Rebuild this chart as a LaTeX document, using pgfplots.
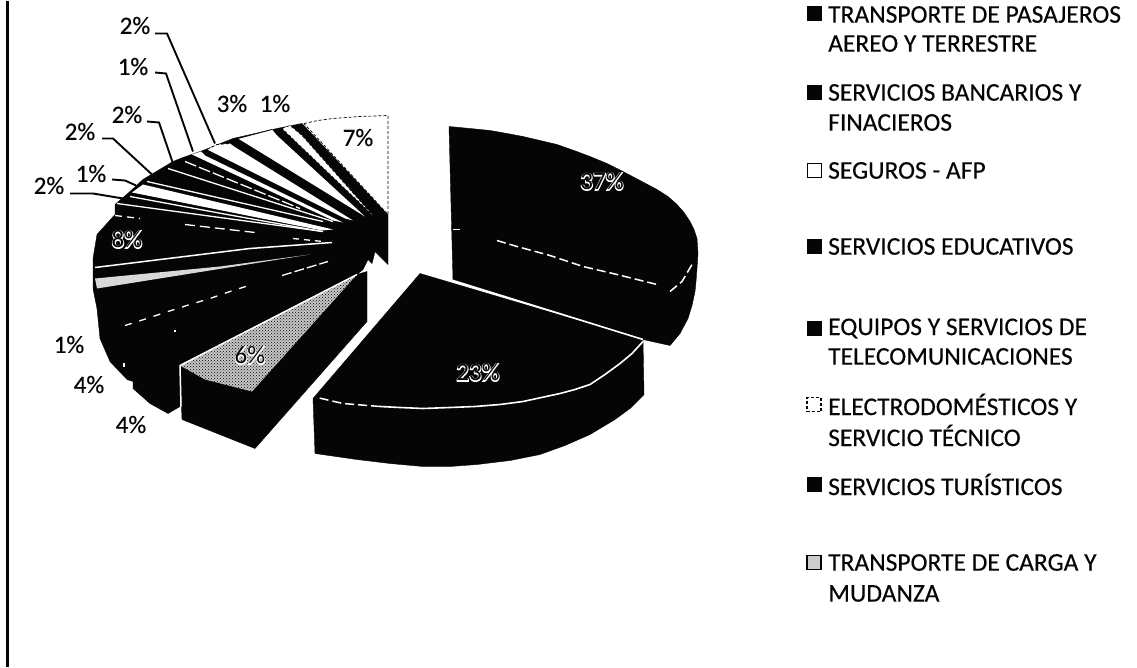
\documentclass[border=0pt]{standalone}
\usepackage{pgfplots}
\pgfplotsset{compat=1.18}
\usepackage{fontspec}
\setmainfont[FakeBold=0.35]{Carlito}
\newfontfamily\halo[FakeBold=7]{Carlito}
\newfontfamily\plain{Carlito}
\usetikzlibrary{patterns}
\definecolor{ink}{gray}{0.02}
\newcommand{\lab}[3]{\node[font=\fontsize{25}{28}\selectfont,text=ink,inner sep=0pt] at (axis cs:#1,#2) {#3};}
\newcommand{\halolab}[3]{\node[font=\halo\fontsize{25}{28}\selectfont,text=white,inner sep=0pt] at (axis cs:#1,#2) {#3};
\node[font=\plain\fontsize{25}{28}\selectfont,text=ink,inner sep=0pt] at (axis cs:#1,#2) {#3};}
\newcommand{\leg}[3]{\node[font=\fontsize{25.5}{28}\selectfont,text=ink,anchor=west,inner sep=0pt] at (axis cs:#1,#2) {#3};}
\begin{document}
\begin{tikzpicture}
\begin{axis}[
  hide axis, scale only axis, width=1137pt, height=665pt,
  xmin=0, xmax=1137, ymin=0, ymax=665, y dir=reverse, clip=false,
]
% page extent
\addplot[draw=none, forget plot] coordinates {(0,0)(1137,665)};
\path (axis cs:0,0) rectangle (axis cs:1137,665);
% frame
\addplot[ink, line width=3pt] coordinates {(7,0) (7,665)};
% 37 %
\addplot[fill=ink, draw=ink] coordinates {(449,125)(470,127)(490,129)(507,132)(523,135)(540,139)(557,143)(574,149)(590,155)(607,162)(623,170)(640,179)(657,188)(668,195)(677,203)(684,211)(690,220)(694,228)(697,237)(698,252)(697,267)(696,280)(695,290)(692,304)(688,317)(680,332)(670,344)(643,338)(453,279)} -- cycle;
\addplot[white, line width=1.5pt, dash pattern=on 9pt off 4pt] coordinates {(497,239)(517,245)(550,254)(583,265)(617,273)(657,283)};
\addplot[white, line width=1.5pt, dash pattern=on 9pt off 4pt] coordinates {(670,290)(682,280)(692,263)};
\addplot[white, line width=1.5pt] coordinates {(453,228)(460,228)};
% 23 %
\addplot[fill=ink, draw=ink] coordinates {(420,272)(643,338)(644,393)(630,407)(615,418)(590,433)(565,444)(540,453)(510,459)(477,463)(450,465)(423,465)(390,462)(357,458)(315,452)(313,397)} -- cycle;
\addplot[white, line width=1.6pt] coordinates {(453,279)(643,338)};
\addplot[white, line width=1.6pt] coordinates {(643,340)(632,352)(620,362)(605,373)(590,383)(575,388)(560,392)(523,400)(500,403)(475,405)(450,406)(423,407)(400,406)(380,405)};
\addplot[white, line width=1.5pt, dash pattern=on 9pt off 4pt] coordinates {(380,405)(343,402)(317,396)};
% main body
\addplot[fill=ink, draw=ink] coordinates {(388,213)(388,263)(375,250)(372,262)(368,258)(363,268)(357,273)(180,364)(180,405)(168,412)(150,402)(133,387)(133,380)(127,378)(110,360)(100,337)(97,307)(93,287)(93,257)(97,233)(115,213)(115,203)(130,190)(143,178)(173,160)(183,156)(203,149)(233,137)(277,127)(302,122)} -- cycle;
% 7 %
\addplot[fill=white, draw=ink, line width=0.7pt, densely dashed] coordinates {(304,122)(318,119)(333,117)(360,115)(388,114)(388,213)} -- cycle;
% white fan wedges
\addplot[fill=white, draw=ink, line width=0.6pt, densely dashed] coordinates {(282,127)(290,124)(302,134)(373,214)} -- cycle;
\addplot[fill=white, draw=none] coordinates {(238,137)(272,128)(277,134)(365,215)} -- cycle;
\addplot[ink, line width=0.8pt] coordinates {(238,137)(272,128)};
\addplot[fill=white, draw=none] coordinates {(207,148)(217,143)(230,142)(234,145)(353,219)(345,217)} -- cycle;
\addplot[ink, line width=0.8pt, densely dashed] coordinates {(207,148)(217,143)(230,142)};
\addplot[fill=white, draw=none] coordinates {(192,153)(201,150)(205,154)(343,221)(333,219)} -- cycle;
\addplot[fill=white, draw=none] coordinates {(132,191)(143,183)(333,228)(322,229)} -- cycle;
% white lines in the fan
\addplot[white, line width=1.3pt] coordinates {(168,167)(333,220)};
\addplot[white, line width=1.3pt] coordinates {(147,180)(323,220)};
\addplot[white, line width=1.3pt, dash pattern=on 12pt off 3pt] coordinates {(185,160)(300,207)};
\addplot[white, line width=1.3pt] coordinates {(130,195)(227,213)(322,230)};
\addplot[white, line width=1.3pt] coordinates {(117,202)(323,230)};
% lower stripes
\addplot[white, line width=1.5pt] coordinates {(95,266)(250,247)(332,241)};
\addplot[fill=white!85!black, draw=none] coordinates {(95,277)(220,265)(310,253)(97,287)} -- cycle;
\addplot[white, line width=1.3pt, dash pattern=on 7pt off 5pt] coordinates {(115,214)(140,217)};
\addplot[white, line width=1.3pt, dash pattern=on 10pt off 5pt] coordinates {(185,223)(255,231)};
\addplot[white, line width=1.3pt, dash pattern=on 6pt off 5pt] coordinates {(293,237)(323,240)};
\addplot[white, line width=1.3pt, dash pattern=on 7pt off 8pt] coordinates {(125,324)(147,317)(168,310)(190,303)(210,297)(230,290)(252,283)};
\addplot[white, line width=1.3pt, dash pattern=on 10pt off 3pt] coordinates {(282,274)(328,260)};
\addplot[white, line width=1.3pt] coordinates {(124,361)(124,365)};
\addplot[white, line width=1.3pt] coordinates {(175,328)(175,330)};
% 6 %
\addplot[fill=ink, draw=ink] coordinates {(180,364)(182,418)(255,447)(367,320)(367,270)(357,273)} -- cycle;
\addplot[fill=gray!45, draw=none] coordinates {(357,273)(180,364)(205,378)(252,390)} -- cycle;
\addplot[pattern=crosshatch dots, pattern color=ink, draw=none] coordinates {(357,273)(180,364)(205,378)(252,390)} -- cycle;
\addplot[white, line width=1.5pt] coordinates {(357,273)(180,364)(181,405)};
% leaders
\addplot[ink, line width=1.9pt] coordinates {(155,32)(167,32)(215,142)};
\addplot[ink, line width=1.9pt] coordinates {(155,71)(166,72)(193,150)};
\addplot[ink, line width=1.9pt] coordinates {(147,120)(159,121)(173,162)};
\addplot[ink, line width=1.9pt] coordinates {(102,137)(113,137)(152,173)};
\addplot[ink, line width=1.9pt] coordinates {(112,178)(125,179)(136,184)};
\addplot[ink, line width=1.9pt] coordinates {(70,192)(93,192)(123,197)};
% labels
\lab{135}{24}{2\%}
\lab{133}{65}{1\%}
\lab{127}{113}{2\%}
\lab{80}{130}{2\%}
\lab{91}{172}{1\%}
\lab{49}{184}{2\%}
\lab{232}{102}{3\%}
\lab{275}{102}{1\%}
\lab{358}{136}{7\%}
\lab{69}{343}{1\%}
\lab{89}{383}{4\%}
\lab{131}{423}{4\%}
\halolab{127}{238}{8\%}
\halolab{602}{180}{37\%}
\halolab{478}{371}{23\%}
\halolab{250}{354}{6\%}
% legend markers
\addplot[only marks, mark=square*, mark size=7pt, mark options={fill=ink, draw=ink}] coordinates {(814,12)(814,91)(814,245)(814,327)(814,483)};
\addplot[only marks, mark=square*, mark size=7pt, mark options={fill=white, draw=ink, line width=1pt}] coordinates {(814,169)};
\addplot[only marks, mark=square*, mark size=7pt, mark options={fill=white, draw=ink, line width=1.6pt, densely dashed}] coordinates {(814,403)};
\addplot[only marks, mark=square*, mark size=7pt, mark options={fill=gray!40, draw=ink, line width=1.3pt}] coordinates {(814,561)};
\leg{828}{13}{TRANSPORTE DE PASAJEROS}
\leg{828}{42}{AEREO Y TERRESTRE}
\leg{828}{91}{SERVICIOS BANCARIOS Y}
\leg{828}{121}{FINACIEROS}
\leg{828}{169}{SEGUROS - AFP}
\leg{828}{245}{SERVICIOS EDUCATIVOS}
\leg{828}{327}{EQUIPOS Y SERVICIOS DE}
\leg{828}{355}{TELECOMUNICACIONES}
\leg{828}{403}{ELECTRODOMÉSTICOS Y}
\leg{828}{434}{SERVICIO TÉCNICO}
\leg{828}{483}{SERVICIOS TURÍSTICOS}
\leg{828}{561}{TRANSPORTE DE CARGA Y}
\leg{828}{592}{MUDANZA}
\end{axis}
\end{tikzpicture}
\end{document}
